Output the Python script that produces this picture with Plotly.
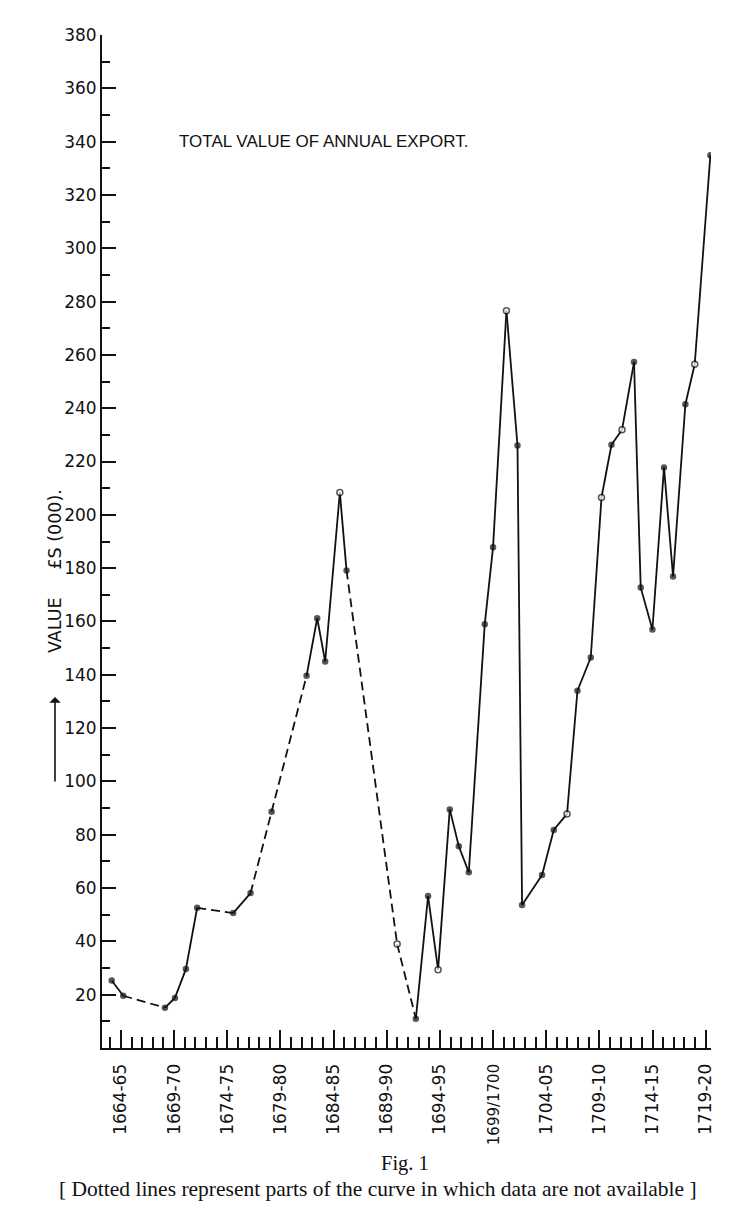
import plotly.graph_objects as go

# ---- data ----
years = [1663.13, 1664.22, 1668.14, 1669.08, 1670.11, 1671.17, 1674.56, 1676.19,
         1678.17, 1681.46, 1682.46, 1683.21, 1684.59, 1685.22, 1689.98, 1691.74,
         1692.89, 1693.83, 1694.93, 1695.78, 1696.72, 1698.22, 1699.00, 1700.26,
         1701.30, 1701.73, 1703.61, 1704.71, 1705.96, 1706.94, 1708.19, 1709.20,
         1710.14, 1711.13, 1712.26, 1712.89, 1713.99, 1715.08, 1715.93, 1717.09,
         1717.97, 1719.44]
values = [25.3, 19.6, 15.1, 18.8, 29.6, 52.6, 50.6, 58.1,
          88.6, 139.6, 161.2, 145.0, 208.4, 179.1, 39.0, 11.0,
          57.0, 29.4, 89.5, 75.7, 65.9, 159.0, 187.8, 276.6,
          226.0, 53.6, 64.9, 81.8, 87.8, 134.0, 146.5, 206.5,
          226.3, 231.9, 257.3, 172.7, 157.0, 217.8, 176.9, 241.5,
          256.5, 334.9]
# whether data are available for the segment from point i to point i+1
segment_available = [True, False, True, True, True, False, True, False,
                     False, True, True, True, True, False, False, True,
                     True, True, True, True, True, True, True, True,
                     True, True, True, True, True, True, True, True,
                     True, True, True, True, True, True, True, True,
                     True]
# points drawn as open circles in the original
open_points = [1684.59, 1689.98, 1693.83, 1700.26, 1705.96, 1709.20, 1711.13, 1717.97]

tick_years = [1664, 1669, 1674, 1679, 1684, 1689, 1694, 1699, 1704, 1709, 1714, 1719]
tick_labels = ["1664-65", "1669-70", "1674-75", "1679-80", "1684-85", "1689-90",
               "1694-95", "<span style='font-size:15px'>1699/1700</span>",
               "1704-05", "1709-10", "1714-15", "1719-20"]
y_ticks = list(range(20, 381, 20))

# ---- build segment traces ----
sx, sy, dx, dy = [], [], [], []
for i, avail in enumerate(segment_available):
    tx, ty = (sx, sy) if avail else (dx, dy)
    tx += [years[i], years[i + 1], None]
    ty += [values[i], values[i + 1], None]

fig = go.Figure()
fig.add_trace(go.Scatter(x=sx, y=sy, mode="lines",
                         line=dict(color="#111", width=1.8), hoverinfo="skip",
                         showlegend=False))
fig.add_trace(go.Scatter(x=dx, y=dy, mode="lines",
                         line=dict(color="#111", width=1.8, dash="9px,5px"),
                         hoverinfo="skip", showlegend=False))
fill = ["white" if y in open_points else "#111" for y in years]
sizes = [6 if y in open_points else 5 for y in years]
fig.add_trace(go.Scatter(x=years, y=values, mode="markers",
                         marker=dict(size=sizes, color=fill,
                                     line=dict(color="#111", width=1.5)),
                         showlegend=False))

# page body has an 8px margin; figure is sized to fit the 750x1215 window
OFF = 8
W, H = 742, 1207
L, T = 102 - OFF, 35 - OFF
pw, ph = 609, 1013
R, B = W - L - pw, H - T - ph

def px(xp):
    return (xp - OFF - L) / pw

def py(yp):
    return (T + ph - (yp - OFF)) / ph

tickfont = dict(family="DejaVu Sans", size=17, color="#111")
fig.update_layout(
    width=W, height=H,
    margin=dict(l=L, r=R, t=T, b=B, autoexpand=False),
    paper_bgcolor="white", plot_bgcolor="white",
    xaxis=dict(range=[1662.22, 1719.5], showgrid=False, zeroline=False,
               showline=True, linecolor="#111", linewidth=2,
               tickmode="array", tickvals=tick_years, ticktext=tick_labels,
               ticks="inside", ticklen=18, tickwidth=1.5, tickcolor="#111",
               tickangle=-90, tickfont=tickfont, ticklabelstandoff=7,
               minor=dict(tickmode="linear", tick0=1663, dtick=1, ticks="inside",
                          ticklen=11, tickwidth=1.5, tickcolor="#111",
                          showgrid=False)),
    yaxis=dict(range=[0, 380], showgrid=False, zeroline=False,
               showline=True, linecolor="#111", linewidth=2,
               tickmode="array", tickvals=y_ticks,
               ticks="inside", ticklen=14, tickwidth=1.5, tickcolor="#111",
               tickfont=tickfont,
               minor=dict(tickmode="linear", tick0=10, dtick=20, ticks="inside",
                          ticklen=8, tickwidth=1.5, tickcolor="#111",
                          showgrid=False)),
    annotations=[
        dict(text="TOTAL VALUE OF ANNUAL EXPORT.", xref="paper", yref="paper",
             x=px(323), y=py(141), xanchor="center", yanchor="middle",
             showarrow=False,
             font=dict(family="Liberation Sans", size=17, color="#111")),
        dict(text="VALUE\u00a0\u00a0\u00a0\u00a0\u00a0£S (000).", xref="paper", yref="paper",
             x=px(55), y=py(571), xanchor="center", yanchor="middle",
             showarrow=False, textangle=-90,
             font=dict(family="DejaVu Sans", size=17.5, color="#111")),
        dict(text="", xref="paper", yref="paper", x=px(55), y=py(697),
             showarrow=True, ax=0, ay=86, arrowhead=1, arrowsize=1.2,
             arrowwidth=1.6, arrowcolor="#111"),
        dict(text="Fig. 1", xref="paper", yref="paper", x=px(405), y=py(1163),
             xanchor="center", yanchor="middle", showarrow=False,
             font=dict(family="Liberation Serif", size=20.5, color="#111")),
        dict(text="[ Dotted lines represent parts of the curve in which data are not available ]",
             xref="paper", yref="paper", x=px(378), y=py(1189),
             xanchor="center", yanchor="middle", showarrow=False,
             font=dict(family="Liberation Serif", size=21.5, color="#111")),
    ],
)

fig.write_html("out.html")
